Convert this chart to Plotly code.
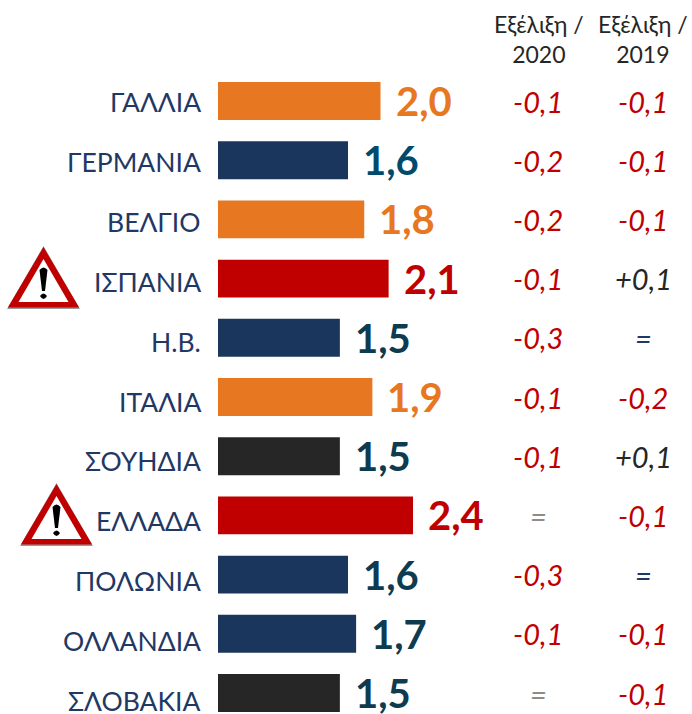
import plotly.graph_objects as go

countries = ["ΓΑΛΛΙΑ", "ΓΕΡΜΑΝΙΑ", "ΒΕΛΓΙΟ", "ΙΣΠΑΝΙΑ", "Η.Β.", "ΙΤΑΛΙΑ", "ΣΟΥΗΔΙΑ", "ΕΛΛΑΔΑ", "ΠΟΛΩΝΙΑ", "ΟΛΛΑΝΔΙΑ", "ΣΛΟΒΑΚΙΑ"]
values = [2.0, 1.6, 1.8, 2.1, 1.5, 1.9, 1.5, 2.4, 1.6, 1.7, 1.5]
value_labels = ["2,0", "1,6", "1,8", "2,1", "1,5", "1,9", "1,5", "2,4", "1,6", "1,7", "1,5"]
bar_colors = ["#E87722", "#1B365D", "#E87722", "#C00000", "#1B365D", "#E87722", "#262626", "#C00000", "#1B365D", "#1B365D", "#262626"]
label_colors = ["#E87722", "#004B6B", "#E87722", "#C00000", "#0D3B4F", "#E87722", "#0D3B4F", "#C00000", "#0D3B4F", "#0D3B4F", "#0D3B4F"]
evol_2020 = ["-0,1", "-0,2", "-0,2", "-0,1", "-0,3", "-0,1", "-0,1", "=", "-0,3", "-0,1", "="]
evol_2019 = ["-0,1", "-0,1", "-0,1", "+0,1", "=", "-0,2", "+0,1", "-0,1", "=", "-0,1", "-0,1"]
headers = ["Εξέλιξη /<br>2020", "Εξέλιξη /<br>2019"]
warned = ["ΙΣΠΑΝΙΑ", "ΕΛΛΑΔΑ"]

W, H = 692, 714
FONT = "Lato, 'Noto Sans', sans-serif"
X0, PX_PER_UNIT = 218, 81.25
Y0, STEP = 101, 59.2
px = lambda x: x / W
py = lambda y: 1 - y / H

def cell_color(s, col):
    if s.startswith("-"):
        return "#C00000"
    if s.startswith("+"):
        return "#262626"
    return "#8C8C8C" if col == 0 else "#1F3864"

fig = go.Figure(go.Bar(
    x=values, y=countries, orientation="h",
    marker=dict(color=bar_colors, line_width=0), width=0.64,
    hoverinfo="skip", showlegend=False))

ann = []
for i, c in enumerate(countries):
    ann.append(dict(x=px(203), y=py(102 + 59.9 * i), xref="paper", yref="paper", text=c,
                    xanchor="right", yanchor="middle", showarrow=False,
                    font=dict(family=FONT, size=26.5, color="#1F3864")))
    ann.append(dict(x=values[i], y=c, xref="x", yref="y", text=value_labels[i], xshift=13, yshift=0,
                    xanchor="left", yanchor="middle", showarrow=False,
                    font=dict(family=FONT, size=40, color=label_colors[i], weight="bold")))
    for col, (xc, arr) in enumerate(((538, evol_2020), (643, evol_2019))):
        ann.append(dict(x=px(xc), y=c, xref="paper", yref="y", text=arr[i],
                        xanchor="center", yanchor="middle", showarrow=False,
                        font=dict(family=FONT, size=29, color=cell_color(arr[i], col), style="italic")))

for xc, h in zip((539, 643), headers):
    ann.append(dict(x=px(xc), y=py(39), xref="paper", yref="paper", text=h, align="center",
                    xanchor="center", yanchor="middle", showarrow=False,
                    font=dict(family=FONT, size=23, color="#262626")))

shapes = []
def tri(cx, top, bot, half):
    return f"M {px(cx)} {py(top)} L {px(cx + half)} {py(bot)} L {px(cx - half)} {py(bot)} Z"

def bang(cx, top):
    body = (f"M {px(cx - 4)} {py(top + 3)} Q {px(cx)} {py(top - 2)} {px(cx + 4)} {py(top + 3)} "
            f"L {px(cx + 1.5)} {py(top + 24)} L {px(cx - 1.5)} {py(top + 24)} Z")
    dot = (f"M {px(cx - 3.5)} {py(top + 29)} Q {px(cx)} {py(top + 24)} {px(cx + 3.5)} {py(top + 29)} "
           f"Q {px(cx)} {py(top + 35)} {px(cx - 3.5)} {py(top + 29)} Z")
    return body, dot

for c in warned:
    cx = 43.5 if c == "ΙΣΠΑΝΙΑ" else 56.5
    cy = 247 if c == "ΙΣΠΑΝΙΑ" else 484
    layers = (
        (cy + 3, cy + 60, 33, "#999999", 4, "#999999"),
        (cy + 3, cy + 59, 33, "#C00000", 3, "#C00000"),
        (cy + 12, cy + 55, 25, "#FFFFFF", 0, "#FFFFFF"),
    )
    for top, bot, half, fill, lw, lc in layers:
        shapes.append(dict(type="path", path=tri(cx, top, bot, half), xref="paper", yref="paper",
                           fillcolor=fill, line=dict(color=lc, width=lw), layer="above"))
    for p in bang(cx, cy + 20):
        shapes.append(dict(type="path", path=p, xref="paper", yref="paper",
                           fillcolor="#000000", line=dict(color="#000000", width=0), layer="above"))

fig.update_layout(
    width=W, height=H, margin=dict(l=0, r=0, t=0, b=0),
    paper_bgcolor="white", plot_bgcolor="white", showlegend=False,
    xaxis=dict(range=[-X0 / PX_PER_UNIT, (W - X0) / PX_PER_UNIT], visible=False, fixedrange=True),
    yaxis=dict(type="category", categoryorder="array", categoryarray=countries,
               range=[(H - Y0) / STEP, -Y0 / STEP], showticklabels=False, showgrid=False,
               zeroline=False, showline=False, ticks="", fixedrange=True),
    annotations=ann, shapes=shapes,
)
fig.write_html("out.html", config={"displayModeBar": False},
               post_script="document.body.style.margin='0';document.documentElement.style.overflow='hidden';")
